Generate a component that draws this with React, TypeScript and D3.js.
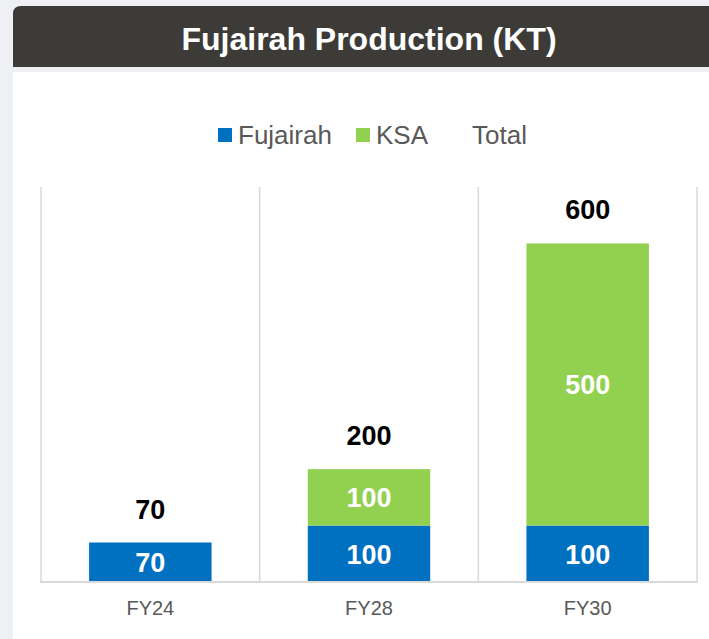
import React, { useEffect, useRef } from 'react';
import * as d3 from 'd3';

const categories = ['FY24', 'FY28', 'FY30'];
const fujairah = [70, 100, 100];
const ksa = [0, 100, 500];
const seriesNames = ['Fujairah', 'KSA'];
const yMax = 700;

const BLUE = '#0070c0';
const GREEN = '#92d050';
const GRID = '#d9d9d9';
const TEXT_GREY = '#595959';
const FONT = '"Liberation Sans", Arial, sans-serif';

const App: React.FC = () => {
  const svgRef = useRef<SVGSVGElement>(null);

  useEffect(() => {
    if (!svgRef.current) return;
    const width = 709;
    const height = 639;
    const plot = { left: 41, right: 697, top: 187, bottom: 582 };

    const svg = d3.select(svgRef.current);
    svg.selectAll('*').remove();
    svg.attr('width', width).attr('height', height);

    // page background and card
    svg.append('rect').attr('width', width).attr('height', height).attr('fill', '#eef0f4');
    svg.append('rect')
      .attr('x', 13).attr('y', 72).attr('width', width).attr('height', height)
      .attr('fill', '#ffffff');
    svg.append('path')
      .attr('d', `M13,67 V14 Q13,6 21,6 H${width} V67 Z`)
      .attr('fill', '#3d3b38');
    svg.append('text')
      .attr('x', 369).attr('y', 50)
      .attr('text-anchor', 'middle')
      .style('font-family', FONT).style('font-weight', 'bold').style('font-size', '32px')
      .attr('fill', '#ffffff')
      .text('Fujairah Production (KT)');

    const data = categories.map((c, i) => ({ cat: c, Fujairah: fujairah[i], KSA: ksa[i] }));
    const stacked = d3.stack<any>().keys(seriesNames)(data);

    const x = d3.scaleBand<string>()
      .domain(categories)
      .range([plot.left, plot.right])
      .paddingInner(0.44)
      .paddingOuter(0.22);
    const y = d3.scaleLinear().domain([0, yMax]).range([plot.bottom, plot.top]);
    const color = d3.scaleOrdinal<string>().domain(seriesNames).range([BLUE, GREEN]);

    // vertical gridlines at category boundaries
    const step = x.step();
    const bounds = d3.range(categories.length + 1).map(i => plot.left + i * step);
    svg.append('g').selectAll('line').data(bounds).join('line')
      .attr('x1', d => d).attr('x2', d => d)
      .attr('y1', plot.top).attr('y2', plot.bottom)
      .attr('stroke', GRID).attr('stroke-width', 1.5);

    // bars
    const layers = svg.append('g').selectAll('g').data(stacked).join('g')
      .attr('fill', d => color(d.key));
    layers.selectAll('rect').data(d => d.filter(s => s[1] - s[0] > 0)).join('rect')
      .attr('x', d => x(d.data.cat)!)
      .attr('width', x.bandwidth())
      .attr('y', d => y(d[1]))
      .attr('height', d => y(d[0]) - y(d[1]));

    // inner labels
    layers.selectAll('text').data(d => d.filter(s => s[1] - s[0] > 0)).join('text')
      .attr('x', d => x(d.data.cat)! + x.bandwidth() / 2)
      .attr('y', d => (y(d[0]) + y(d[1])) / 2)
      .attr('dy', '0.36em')
      .attr('text-anchor', 'middle')
      .style('font-family', FONT).style('font-weight', 'bold').style('font-size', '27px')
      .attr('fill', '#ffffff')
      .text(d => String(d[1] - d[0]));

    // totals
    const totals = categories.map((c, i) => ({ cat: c, v: fujairah[i] + ksa[i] }));
    svg.append('g').selectAll('text').data(totals).join('text')
      .attr('x', d => x(d.cat)! + x.bandwidth() / 2)
      .attr('y', d => y(d.v) - 24)
      .attr('text-anchor', 'middle')
      .style('font-family', FONT).style('font-weight', 'bold').style('font-size', '27px')
      .attr('fill', '#000000')
      .text(d => String(d.v));

    // x axis
    svg.append('line')
      .attr('x1', plot.left - 1).attr('x2', plot.right + 1)
      .attr('y1', plot.bottom).attr('y2', plot.bottom)
      .attr('stroke', GRID).attr('stroke-width', 2);
    svg.append('g').selectAll('text').data(categories).join('text')
      .attr('x', d => x(d)! + x.bandwidth() / 2)
      .attr('y', 615)
      .attr('text-anchor', 'middle')
      .style('font-family', FONT).style('font-size', '20px')
      .attr('fill', TEXT_GREY)
      .text(d => d);

    // legend
    const legendItems = [
      { name: 'Fujairah', color: BLUE, x: 218 },
      { name: 'KSA', color: GREEN, x: 356 },
      { name: 'Total', color: null as string | null, x: 472 },
    ];
    const legend = svg.append('g');
    legendItems.forEach(item => {
      if (item.color) {
        legend.append('rect')
          .attr('x', item.x).attr('y', 128).attr('width', 14).attr('height', 14)
          .attr('fill', item.color);
      }
      legend.append('text')
        .attr('x', item.color ? item.x + 20 : item.x)
        .attr('y', 144)
        .style('font-family', FONT).style('font-size', '26px')
        .attr('fill', TEXT_GREY)
        .text(item.name);
    });
  }, []);

  return (
    <div style={{ position: 'absolute', left: 0, top: 0 }}>
      <svg ref={svgRef} style={{ display: 'block' }} />
    </div>
  );
};

export default App;
